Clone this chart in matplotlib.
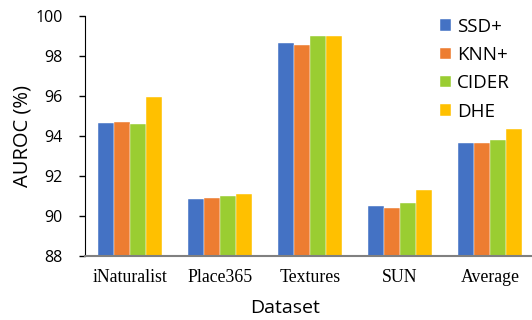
import numpy as np
import matplotlib
matplotlib.use('Agg')
import matplotlib.pyplot as plt

datasets = ["iNaturalist", "Place365", "Textures", "SUN", "Average"]
methods = ["SSD+", "KNN+", "CIDER", "DHE"]
ssd = [94.65, 90.83, 98.63, 90.50, 93.63]
knn = [94.68, 90.90, 98.53, 90.40, 93.63]
cider = [94.62, 91.00, 99.00, 90.67, 93.80]
dhe = [95.93, 91.10, 99.00, 91.28, 94.33]
colors = ["#4472C4", "#ED7D31", "#9ACD32", "#FFC000"]

fig = plt.figure(figsize=(5.32, 3.2), dpi=100)
ax = fig.add_axes([85 / 532, 64 / 320, 450 / 532, 240 / 320])

x = np.arange(len(datasets))
w = 0.18
for i, (vals, name) in enumerate(zip([ssd, knn, cider, dhe], methods)):
    ax.bar(x + (i - 1.5) * w, np.array(vals) - 88, bottom=88, width=w,
           color=colors[i], label=name, edgecolor='white', linewidth=0.3)

ax.set_ylim(88, 100)
ax.set_xlim(-0.5, 4.5)
ax.set_yticks(range(88, 101, 2))
ax.set_xticks(x)
ax.set_xticklabels(datasets, family='Liberation Serif', fontsize=12.8)
ax.tick_params(axis='x', length=0, pad=9)
ax.tick_params(axis='y', length=4, width=1, direction='out', pad=12, labelsize=11.5)
for lbl in ax.get_yticklabels():
    lbl.set_family('Open Sans')

for s in ['top', 'right']:
    ax.spines[s].set_visible(False)
ax.spines['left'].set_color('black')
ax.spines['bottom'].set_color('#808080')
ax.spines['bottom'].set_linewidth(1.5)

ax.set_ylabel("AUROC (%)", family='Open Sans', fontsize=14.5, labelpad=2)
ax.set_xlabel("Dataset", family='Open Sans', fontsize=14)
ax.xaxis.set_label_coords(0.444, -0.215)
ax.xaxis.label.set_va('center')

ax.legend(loc='upper left', bbox_to_anchor=(0.752, 1.063), frameon=False,
          prop={'family': 'Open Sans', 'size': 13.5}, handlelength=0.55,
          handleheight=0.55, handletextpad=0.35, labelspacing=0.55)

fig.savefig("out.png", dpi=100)
